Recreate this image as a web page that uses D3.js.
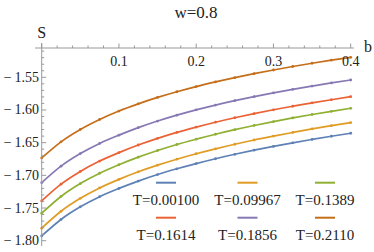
<!DOCTYPE html>
<html><head><meta charset="utf-8">
<script src="https://cdn.jsdelivr.net/npm/d3@7"></script>
<style>body{margin:0;background:#fff}svg{display:block}</style>
</head><body>
<script>
const bValues = [0,0.025,0.05,0.075,0.1,0.125,0.15,0.175,0.2,0.225,0.25,0.275,0.3,0.325,0.35,0.375,0.4];
const seriesNames = ["T=0.00100","T=0.09967","T=0.1389","T=0.1614","T=0.1856","T=0.2110"];
const sBlue   = [-1.7927,-1.7675,-1.7482,-1.7326,-1.7200,-1.7088,-1.6988,-1.6900,-1.6820,-1.6746,-1.6678,-1.6615,-1.6557,-1.6502,-1.6451,-1.6402,-1.6356];
const sYellow = [-1.7809,-1.7550,-1.7352,-1.7193,-1.7062,-1.6946,-1.6844,-1.6753,-1.6670,-1.6594,-1.6524,-1.6459,-1.6400,-1.6344,-1.6290,-1.6240,-1.6194];
const sGreen  = [-1.7580,-1.7323,-1.7126,-1.6968,-1.6838,-1.6722,-1.6620,-1.6528,-1.6447,-1.6371,-1.6301,-1.6237,-1.6178,-1.6122,-1.6069,-1.6020,-1.5974];
const sRed    = [-1.7391,-1.7135,-1.6940,-1.6782,-1.6652,-1.6536,-1.6434,-1.6343,-1.6262,-1.6187,-1.6119,-1.6056,-1.5997,-1.5943,-1.5891,-1.5843,-1.5797];
const sPurple = [-1.7112,-1.6860,-1.6667,-1.6512,-1.6385,-1.6270,-1.6169,-1.6079,-1.5998,-1.5925,-1.5858,-1.5796,-1.5738,-1.5684,-1.5634,-1.5586,-1.5541];
const sBrown  = [-1.6734,-1.6487,-1.6298,-1.6145,-1.6016,-1.5906,-1.5808,-1.5721,-1.5642,-1.5571,-1.5505,-1.5444,-1.5388,-1.5335,-1.5285,-1.5238,-1.5194];
const xTicks = [0.1,0.2,0.3,0.4];
const yTicks = [-1.80,-1.75,-1.70,-1.65,-1.60,-1.55];
const titleText = "w=0.8", xLabel = "b", yLabel = "S";

const colors = ["#5E81B5","#E19C24","#8FB032","#EB6235","#8778B3","#C56E1A"];
const allSeries = [sBlue,sYellow,sGreen,sRed,sPurple,sBrown];
const FONT = '"Liberation Serif"';

const W=374,H=252;
const svg=d3.select("body").append("svg").attr("width",W).attr("height",H);
const x=d3.scaleLinear().domain([0,0.4]).range([41.7,350.7]);
const y=d3.scaleLinear().domain([-1.55,-1.80]).range([77.3,240.7]);
const axisY=48;
const txt=(sel)=>sel.style("font-family",FONT).attr("fill","#222");

txt(svg.append("text")).attr("x",196).attr("y",18).attr("text-anchor","middle").attr("font-size",17).text(titleText);

// curves
const line=d3.line().x((d,i)=>x(bValues[i])).y(d=>y(d)).curve(d3.curveMonotoneX);
allSeries.forEach((s,k)=>{
  svg.append("path").attr("d",line(s)).attr("fill","none").attr("stroke",colors[k]).attr("stroke-width",1.7);
  svg.append("g").selectAll("circle").data(s).join("circle")
    .attr("cx",(d,i)=>x(bValues[i])).attr("cy",d=>y(d)).attr("r",1.4).attr("fill",colors[k]);
});

// axes
const ax=svg.append("g").attr("stroke","#999").attr("stroke-width",1);
ax.append("line").attr("x1",35).attr("x2",354).attr("y1",axisY).attr("y2",axisY);
ax.append("line").attr("x1",x(0)).attr("x2",x(0)).attr("y1",43).attr("y2",246);
const xMinor=d3.range(0,0.4001,0.02);
xMinor.forEach(v=>{
  const major=Math.abs(v*10-Math.round(v*10))<1e-6;
  ax.append("line").attr("x1",x(v)).attr("x2",x(v)).attr("y1",axisY).attr("y2",axisY-(major?4.5:2.5));
});
const yMinor=d3.range(-1.80,-1.5049,0.01);
yMinor.forEach(v=>{
  const major=Math.abs(v*20-Math.round(v*20))<1e-6;
  ax.append("line").attr("x1",x(0)).attr("x2",x(0)+(major?4.5:2.5)).attr("y1",y(v)).attr("y2",y(v));
});
txt(svg.append("g").selectAll("text").data(xTicks).join("text"))
  .attr("x",d=>x(d)).attr("y",66).attr("text-anchor","middle").attr("font-size",14).text(d=>d.toFixed(1));
txt(svg.append("g").selectAll("text").data(yTicks).join("text"))
  .attr("x",39).attr("y",d=>y(d)+4.5).attr("text-anchor","end").attr("font-size",14).text(d=>"\u2212\u20091"+Math.abs(d).toFixed(2).slice(1));
txt(svg.append("text")).attr("x",41.7).attr("y",38).attr("text-anchor","middle").attr("font-size",16).text(yLabel);
txt(svg.append("text")).attr("x",368).attr("y",52).attr("text-anchor","middle").attr("font-size",16).text(xLabel);

// legend
const colX=[166,247.5,325], rowLine=[182.7,217.7], rowText=[205,240];
seriesNames.forEach((n,k)=>{
  const c=k%3, r=Math.floor(k/3);
  svg.append("line").attr("x1",colX[c]-10).attr("x2",colX[c]+10).attr("y1",rowLine[r]).attr("y2",rowLine[r])
    .attr("stroke",colors[k]).attr("stroke-width",2);
  txt(svg.append("text")).attr("x",colX[c]).attr("y",rowText[r]).attr("text-anchor","middle").attr("font-size",15).text(n);
});
</script>
</body></html>
